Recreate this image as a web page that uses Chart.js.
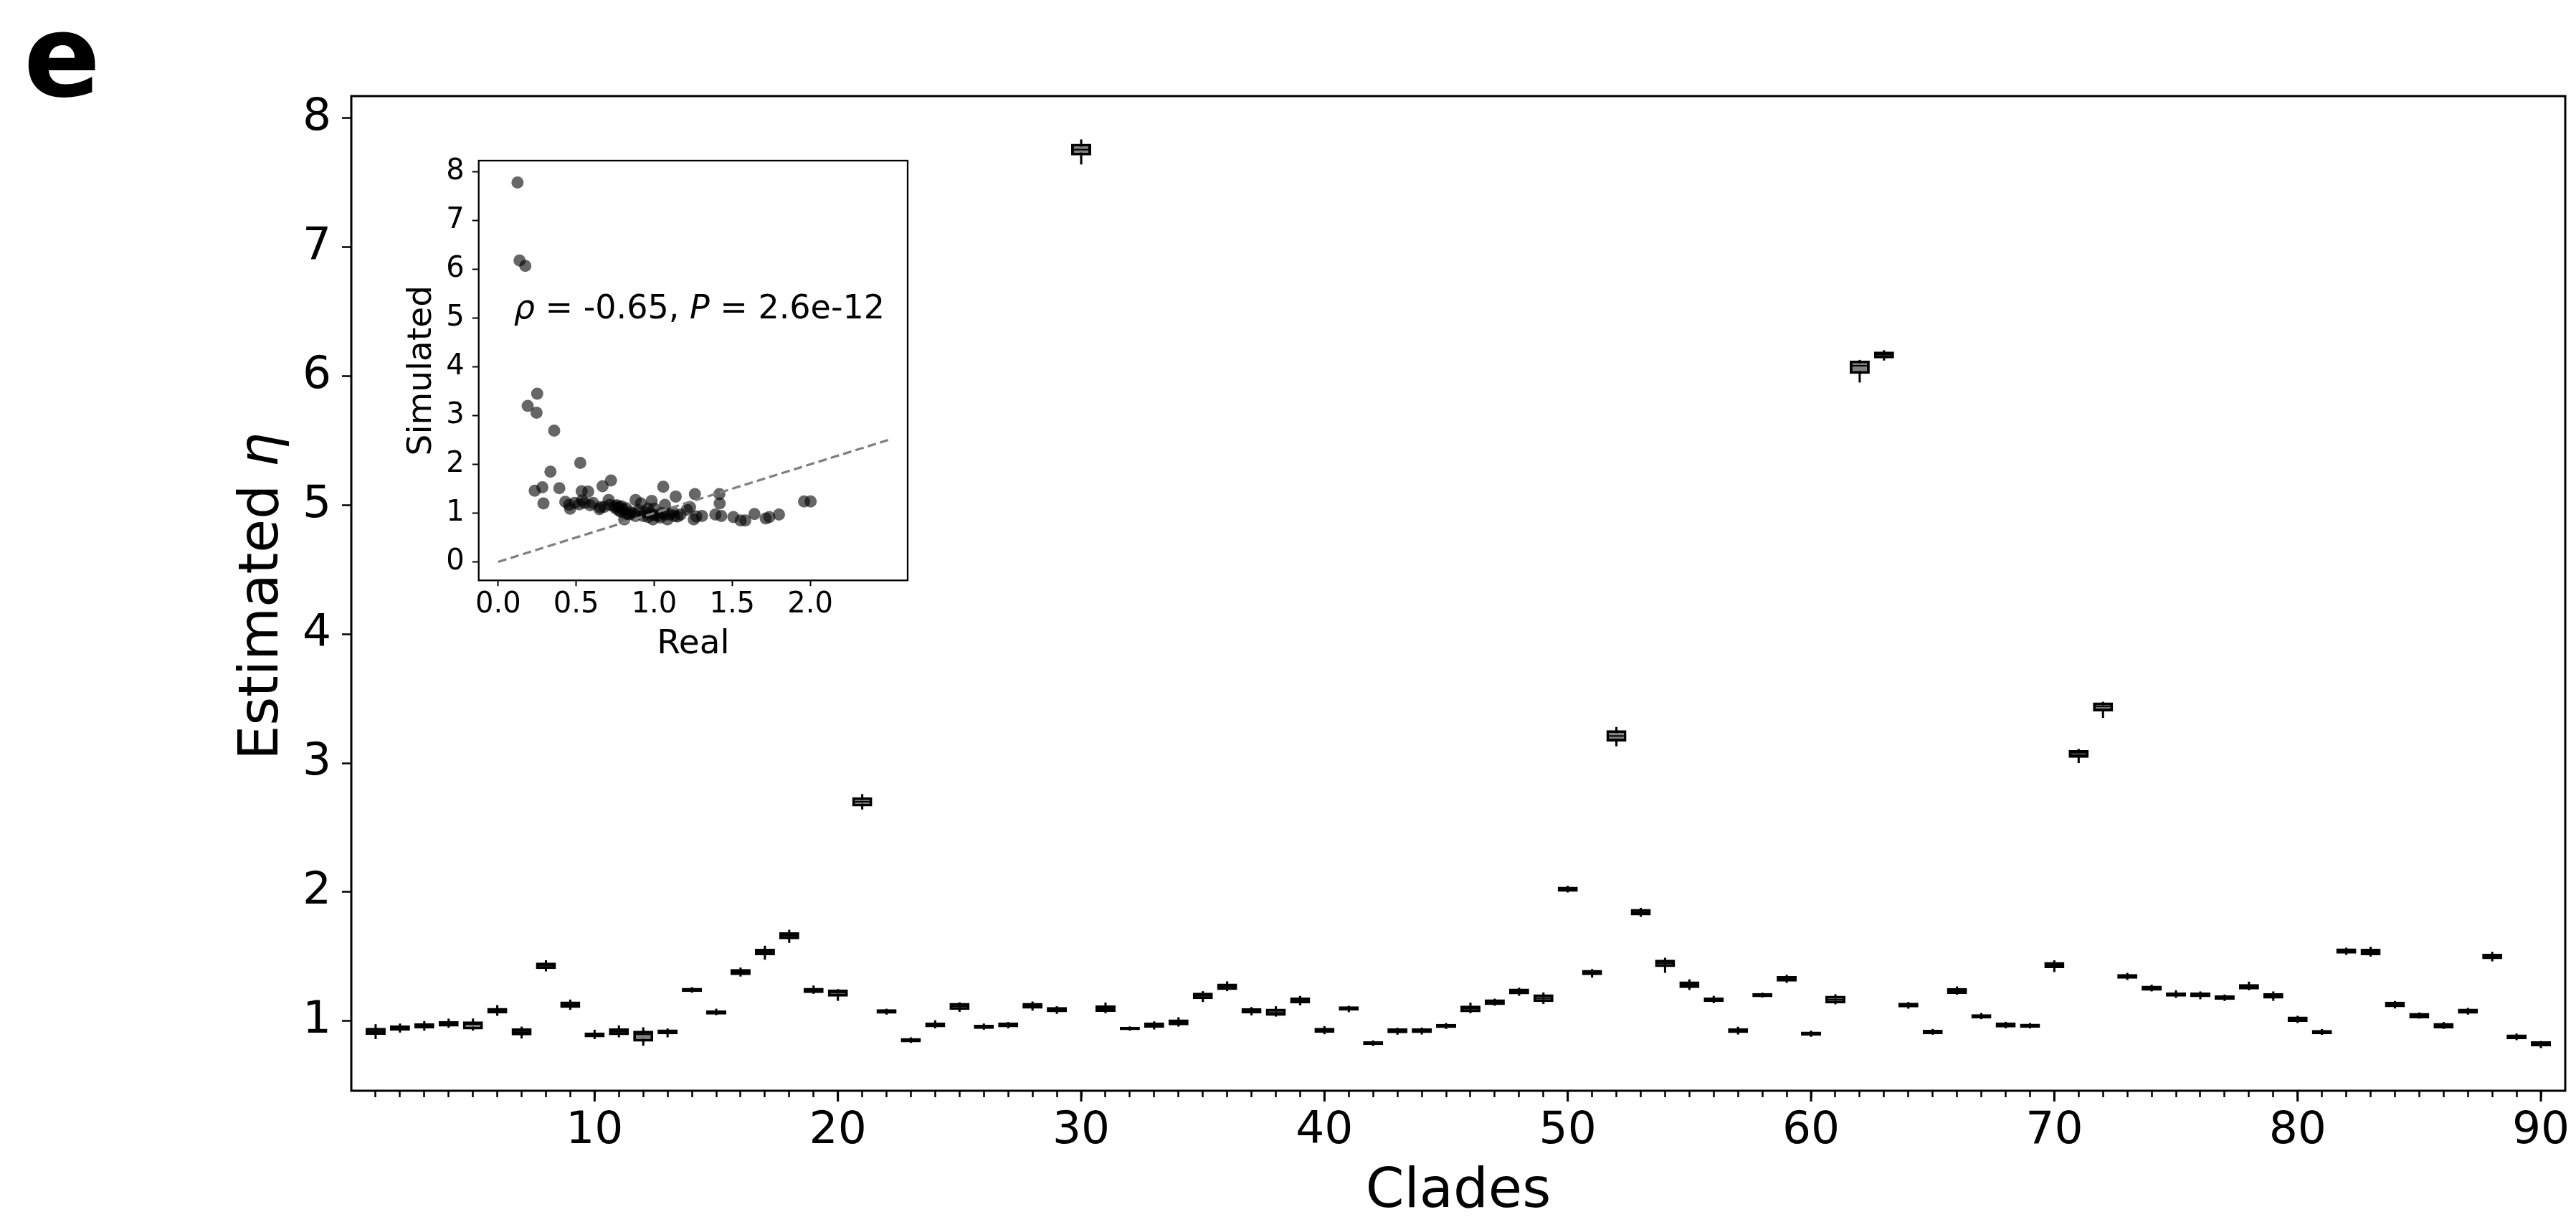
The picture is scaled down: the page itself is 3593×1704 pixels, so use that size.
<!DOCTYPE html>
<html lang="en">
<head>
<meta charset="UTF-8">
<title>Estimated eta per clade</title>
<script src="https://cdn.jsdelivr.net/npm/chart.js@4.4.0/dist/chart.umd.min.js"></script>
<style>
  html, body { margin: 0; padding: 0; background: #fff; overflow: hidden; }
  #wrap { position: relative; width: 3593px; height: 1704px; }
  #main { position: absolute; left: 0; top: 0; }
  #inset { position: absolute; left: 520px; top: 210px; }
  #panel { position: absolute; left: 33px; top: 0px; font: bold 158px 'DejaVu Sans'; line-height: 158px; color: #000; }
</style>
</head>
<body>
<div id="wrap">
  <canvas id="main" width="3593" height="1704"></canvas>
  <canvas id="inset" width="770" height="730"></canvas>
  <div id="panel">e</div>
</div>
<script>
// main panel: one box per clade
const clades = [1,2,3,4,5,6,7,8,9,10,11,12,13,14,15,16,17,18,19,20,21,22,23,24,25,26,27,28,29,30,
  31,32,33,34,35,36,37,38,39,40,41,42,43,44,45,46,47,48,49,50,51,52,53,54,55,56,57,58,59,60,
  61,62,63,64,65,66,67,68,69,70,71,72,73,74,75,76,77,78,79,80,81,82,83,84,85,86,87,88,89,90];

const medians = [0.920,0.946,0.963,0.978,0.976,1.080,0.915,1.430,1.127,0.893,
  0.917,0.898,0.917,1.243,1.067,1.380,1.535,1.662,1.237,1.220,
  2.700,1.075,0.852,0.970,1.115,0.955,0.970,1.120,1.090,7.755,
  1.098,0.943,0.968,0.990,1.196,1.267,1.080,1.069,1.161,0.930,
  1.098,0.830,0.922,0.926,0.963,1.096,1.148,1.230,1.178,2.023,
  1.376,3.210,1.843,1.448,1.283,1.167,0.926,1.202,1.328,0.904,
  1.167,6.080,6.165,1.124,0.917,1.233,1.037,0.970,0.965,1.434,
  3.070,3.440,1.348,1.256,1.206,1.204,1.183,1.267,1.196,1.015,
  0.915,1.545,1.537,1.130,1.043,0.967,1.078,1.502,0.878,0.824];

const boxLow = [0.893,0.926,0.943,0.957,0.935,1.059,0.889,1.404,1.102,0.874,
  0.891,0.841,0.898,1.226,1.050,1.356,1.510,1.634,1.217,1.189,
  2.664,1.057,0.835,0.952,1.087,0.939,0.952,1.096,1.069,7.710,
  1.072,0.930,0.948,0.967,1.170,1.241,1.059,1.041,1.137,0.909,
  1.081,0.815,0.906,0.907,0.946,1.069,1.124,1.208,1.148,2.002,
  1.356,3.167,1.819,1.419,1.256,1.148,0.907,1.185,1.306,0.887,
  1.137,6.017,6.137,1.106,0.898,1.211,1.020,0.950,0.948,1.411,
  3.040,3.400,1.328,1.235,1.189,1.185,1.165,1.245,1.174,0.993,
  0.898,1.523,1.511,1.107,1.022,0.944,1.057,1.480,0.859,0.804];

const boxHigh = [0.948,0.967,0.983,1.000,0.998,1.102,0.943,1.454,1.152,0.911,
  0.943,0.926,0.935,1.258,1.083,1.404,1.560,1.689,1.258,1.245,
  2.735,1.093,0.868,0.989,1.141,0.972,0.989,1.141,1.109,7.800,
  1.122,0.955,0.989,1.013,1.220,1.291,1.100,1.096,1.183,0.948,
  1.115,0.844,0.943,0.944,0.978,1.120,1.169,1.252,1.208,2.041,
  1.397,3.254,1.869,1.476,1.308,1.183,0.943,1.217,1.350,0.918,
  1.196,6.120,6.190,1.143,0.933,1.256,1.054,0.989,0.980,1.458,
  3.100,3.470,1.365,1.274,1.222,1.222,1.200,1.287,1.217,1.035,
  0.931,1.563,1.561,1.150,1.063,0.985,1.096,1.522,0.896,0.843];

const whiskerLow = [0.861,0.911,0.926,0.948,0.926,1.041,0.865,1.385,1.087,0.861,
  0.874,0.809,0.874,1.220,1.046,1.345,1.476,1.606,1.211,1.157,
  2.640,1.050,0.831,0.944,1.072,0.933,0.944,1.081,1.056,7.640,
  1.061,0.926,0.935,0.957,1.148,1.232,1.044,1.035,1.122,0.898,
  1.069,0.807,0.894,0.896,0.939,1.061,1.119,1.196,1.133,1.997,
  1.337,3.130,1.808,1.374,1.241,1.139,0.896,1.183,1.296,0.878,
  1.130,5.950,6.120,1.096,0.894,1.204,1.015,0.944,0.943,1.380,
  3.000,3.350,1.319,1.230,1.180,1.169,1.156,1.239,1.157,0.985,
  0.893,1.513,1.500,1.098,1.019,0.939,1.050,1.463,0.852,0.791];

const whiskerHigh = [0.976,0.981,1.000,1.019,1.020,1.124,0.957,1.472,1.167,0.933,
  0.967,0.952,0.943,1.263,1.096,1.415,1.584,1.708,1.276,1.248,
  2.760,1.096,0.874,1.007,1.146,0.981,0.993,1.152,1.115,7.834,
  1.144,0.959,0.998,1.030,1.232,1.308,1.109,1.115,1.195,0.961,
  1.119,0.850,0.948,0.950,0.985,1.143,1.174,1.259,1.222,2.049,
  1.404,3.280,1.878,1.491,1.324,1.196,0.956,1.220,1.359,0.926,
  1.208,6.125,6.200,1.148,0.939,1.269,1.063,0.994,0.985,1.471,
  3.110,3.475,1.374,1.282,1.239,1.230,1.206,1.306,1.230,1.041,
  0.939,1.569,1.576,1.156,1.067,0.993,1.102,1.537,0.904,0.846];

const yTicks = [1, 2, 3, 4, 5, 6, 7, 8];

// inset: real vs simulated eta
const realEta = [0.124,0.137,0.174,0.250,0.189,0.246,0.359,
  0.526,0.335,0.234,0.283,0.392,0.290,0.669,0.723,1.058,0.535,0.577,0.430,0.454,0.461,
  0.538,0.554,0.608,0.654,0.708,0.715,0.777,0.800,0.823,0.808,0.881,0.915,0.984,0.961,
  1.000,0.930,0.961,1.023,1.069,1.069,1.100,1.138,1.169,1.230,1.261,1.254,1.307,1.418,
  1.420,1.392,1.430,1.508,1.554,1.584,1.643,1.715,1.738,1.800,1.961,2.003,0.745,0.790,
  0.838,0.992,1.085,1.130,
  0.649,0.752,0.774,0.787,0.760,0.820,0.850,0.870,0.900,0.940,0.970,1.000,1.040,1.050,
  1.120,1.150,0.590,0.680,0.520,0.490,0.880,1.210,1.270];
const simEta = [7.78,6.18,6.07,3.45,3.20,3.06,2.69,
  2.03,1.85,1.46,1.53,1.51,1.20,1.55,1.67,1.54,1.45,1.44,1.23,1.17,1.09,
  1.26,1.21,1.21,1.12,1.27,1.17,1.12,1.07,0.99,0.87,1.27,1.20,1.25,1.09,
  1.09,0.94,0.92,0.94,1.17,0.97,0.97,1.34,0.97,1.12,1.39,0.87,0.94,1.39,
  1.20,0.97,0.94,0.92,0.85,0.85,0.98,0.89,0.92,0.97,1.24,1.24,1.14,1.14,
  0.97,0.87,0.87,0.94,
  1.08,1.10,1.05,1.03,1.16,1.10,1.02,0.99,1.06,1.02,1.00,0.96,0.91,1.00,
  1.02,0.93,1.16,1.13,1.18,1.21,0.94,1.07,0.93];
const refLineX = [0, 2.5];
const refLineY = [0, 2.5];
const insetXTicks = [0, 0.5, 1, 1.5, 2];
const insetYTicks = [0, 1, 2, 3, 4, 5, 6, 7, 8];

Chart.defaults.font.family = "'DejaVu Sans'";
Chart.defaults.color = '#000';

const FONT = "'DejaVu Sans'";

// keep the plot areas where the reference has them
function noEdgePadding(s) {
  s.paddingTop = 0; s.paddingBottom = 0; s.paddingLeft = 0; s.paddingRight = 0;
}

// frame, long ticks every 10 clades, y title with italic eta
const mainDecor = {
  id: 'mainDecor',
  afterDraw(chart) {
    const { ctx, chartArea: a } = chart;
    const xs = chart.scales.x;
    ctx.save();
    ctx.strokeStyle = '#000';
    ctx.lineWidth = 3;
    ctx.strokeRect(a.left, a.top, a.right - a.left, a.bottom - a.top);
    ctx.beginPath();
    clades.filter(v => v % 10 === 0).forEach(v => {
      const px = xs.getPixelForValue(v);
      ctx.moveTo(px, a.bottom);
      ctx.lineTo(px, a.bottom + 15);
    });
    ctx.stroke();

    const parts = [
      { t: 'Estimated ', f: '76px ' + FONT },
      { t: 'η', f: 'italic 76px ' + FONT }
    ];
    ctx.fillStyle = '#000';
    ctx.textBaseline = 'alphabetic';
    let total = 0;
    parts.forEach(p => { ctx.font = p.f; p.w = ctx.measureText(p.t).width; total += p.w; });
    ctx.translate(a.left - 103, (a.top + a.bottom) / 2 + 4);
    ctx.rotate(-Math.PI / 2);
    let cx = -total / 2;
    parts.forEach(p => { ctx.font = p.f; ctx.fillText(p.t, cx, 0); cx += p.w; });
    ctx.restore();
  }
};

new Chart(document.getElementById('main'), {
  type: 'bar',
  data: {
    datasets: [
      {
        type: 'line',
        data: clades.map((c, i) => ({ x: c, y: medians[i] })),
        showLine: false,
        pointStyle: 'line',
        pointRadius: 13,
        pointBorderWidth: 2,
        pointBorderColor: '#000',
        order: 0
      },
      {
        data: clades.map((c, i) => ({ x: c, y: [boxLow[i], boxHigh[i]] })),
        backgroundColor: '#808080',
        borderColor: '#000',
        borderWidth: 4,
        borderSkipped: false,
        grouped: false,
        categoryPercentage: 1,
        barPercentage: 0.825,
        order: 1
      },
      {
        data: clades.map((c, i) => ({ x: c, y: [whiskerLow[i], whiskerHigh[i]] })),
        backgroundColor: '#000',
        borderWidth: 0,
        grouped: false,
        categoryPercentage: 1,
        barPercentage: 0.09,
        order: 2
      }
    ]
  },
  options: {
    responsive: false,
    animation: false,
    devicePixelRatio: 1,
    events: [],
    layout: { padding: { top: 134, right: 11, left: 0, bottom: 0 } },
    plugins: { legend: { display: false }, tooltip: { enabled: false } },
    scales: {
      x: {
        type: 'linear',
        min: 0,
        max: 91,
        offset: false,
        border: { display: false },
        grid: { offset: false, drawOnChartArea: false, drawTicks: true, tickLength: 9, tickWidth: 2.5, tickColor: '#000' },
        afterBuildTicks: s => { s.ticks = clades.map(v => ({ value: v })); },
        afterFit: s => { s.height = 183; noEdgePadding(s); },
        ticks: {
          autoSkip: false,
          maxRotation: 0,
          padding: 10,
          font: { size: 63 },
          callback: v => (v % 10 === 0 ? String(v) : '')
        },
        title: { display: true, text: 'Clades', font: { size: 77, lineHeight: 1 }, padding: { top: 0, bottom: 3 } }
      },
      y: {
        min: 0.46,
        max: 8.17,
        border: { display: false },
        grid: { drawOnChartArea: false, tickLength: 13, tickWidth: 2.5, tickColor: '#000' },
        afterBuildTicks: s => { s.ticks = yTicks.map(v => ({ value: v })); },
        afterFit: s => { s.width = 490; noEdgePadding(s); },
        ticks: { padding: 15, font: { size: 63 }, callback: v => String(v) }
      }
    }
  },
  plugins: [mainDecor]
});

// inset frame and correlation note
const insetDecor = {
  id: 'insetDecor',
  afterDraw(chart) {
    const { ctx, chartArea: a, scales: { x, y } } = chart;
    ctx.save();
    ctx.strokeStyle = '#000';
    ctx.lineWidth = 2.3;
    ctx.strokeRect(a.left, a.top, a.right - a.left, a.bottom - a.top);

    const parts = [
      { t: 'ρ', f: 'italic 46px ' + FONT },
      { t: ' = -0.65, ', f: '46px ' + FONT },
      { t: 'P', f: 'italic 46px ' + FONT },
      { t: ' = 2.6e-12', f: '46px ' + FONT }
    ];
    ctx.fillStyle = '#000';
    ctx.textBaseline = 'alphabetic';
    let cx = x.getPixelForValue(0.1);
    const cy = y.getPixelForValue(5);
    parts.forEach(p => {
      ctx.font = p.f;
      ctx.fillText(p.t, cx, cy);
      cx += ctx.measureText(p.t).width;
    });
    ctx.restore();
  }
};

new Chart(document.getElementById('inset'), {
  type: 'scatter',
  data: {
    datasets: [
      {
        type: 'line',
        data: refLineX.map((v, i) => ({ x: v, y: refLineY[i] })),
        borderColor: '#808080',
        borderWidth: 3.3,
        borderDash: [12, 6],
        pointRadius: 0,
        fill: false,
        order: 0
      },
      {
        data: realEta.map((v, i) => ({ x: v, y: simEta[i] })),
        backgroundColor: 'rgba(0,0,0,0.6)',
        borderWidth: 0,
        pointRadius: 8.5,
        order: 1
      }
    ]
  },
  options: {
    responsive: false,
    animation: false,
    devicePixelRatio: 1,
    events: [],
    layout: { padding: { top: 14, right: 24, left: 0, bottom: 0 } },
    plugins: { legend: { display: false }, tooltip: { enabled: false } },
    scales: {
      x: {
        type: 'linear',
        min: -0.125,
        max: 2.625,
        border: { display: false },
        grid: { drawOnChartArea: false, tickLength: 8, tickWidth: 2, tickColor: '#000' },
        afterBuildTicks: s => { s.ticks = insetXTicks.map(v => ({ value: v })); },
        afterFit: s => { s.height = 130.7; noEdgePadding(s); },
        ticks: { padding: 2, maxRotation: 0, font: { size: 40 }, callback: v => v.toFixed(1) },
        title: { display: true, text: 'Real', font: { size: 47, lineHeight: 1 }, padding: { top: 0, bottom: 18 } }
      },
      y: {
        min: -0.38,
        max: 8.23,
        border: { display: false },
        grid: { drawOnChartArea: false, tickLength: 9, tickWidth: 2, tickColor: '#000' },
        afterBuildTicks: s => { s.ticks = insetYTicks.map(v => ({ value: v })); },
        afterFit: s => { s.width = 147.7; noEdgePadding(s); },
        ticks: { padding: 11, font: { size: 40 }, callback: v => String(v) },
        title: { display: true, text: 'Simulated', font: { size: 47, lineHeight: 1 }, padding: { top: 45, bottom: 0 } }
      }
    }
  },
  plugins: [insetDecor]
});
</script>
</body>
</html>
